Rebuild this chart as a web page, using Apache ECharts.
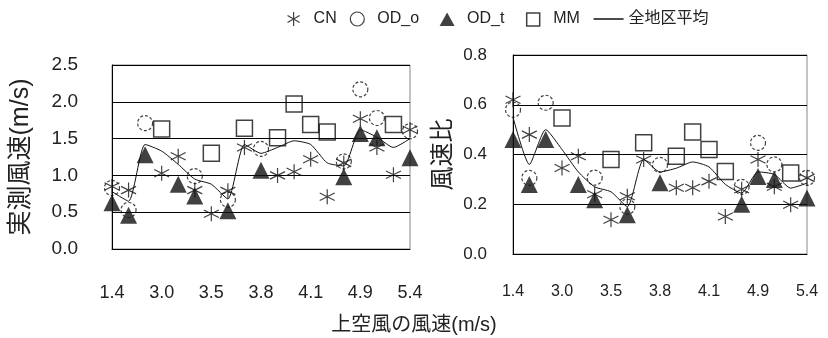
<!DOCTYPE html>
<html>
<head>
<meta charset="utf-8">
<script src="https://cdn.jsdelivr.net/npm/echarts@6/dist/echarts.min.js"></script>
<style>
  html, body { margin: 0; padding: 0; background: #fff; }
  #chart { width: 828px; height: 338px; }
</style>
</head>
<body>
<div id="chart"></div>
<script>
// Upper-air wind speed categories (m/s); every third one is labelled
const categories = ['1.4','2.0','2.8','3.0','3.1','3.3','3.5','3.6','3.7','3.8','3.9','4.0','4.1','4.3','4.6','4.9','5.0','5.2','5.4'];

// Measured wind speed (m/s)
const speedCN  = [0.85, 0.80, null, 1.03, 1.26, 0.80, 0.48, 0.79, 1.38, null, 1.00, 1.05, 1.22, 0.71, 1.17, 1.77, 1.38, 1.01, 1.62];
const speedODo = [0.83, 0.53, 1.71, null, null, 0.99, null, 0.67, null, 1.36, null, null, null, null, 1.19, 2.17, 1.78, null, 1.60];
const speedODt = [0.63, 0.46, 1.28, null, 0.88, 0.72, null, 0.52, null, 1.07, null, null, null, null, 0.98, 1.57, 1.51, null, 1.24];
const speedMM  = [null, null, null, 1.63, null, null, 1.30, null, 1.64, null, 1.51, 1.97, 1.69, 1.59, null, null, null, 1.69, null];
const speedAvg = [0.78, 0.65, 1.42, 1.33, 1.15, 0.95, 0.88, 0.68, 1.42, 1.30, 1.38, 1.47, 1.42, 1.17, 1.13, 1.62, 1.52, 1.38, 1.50];

// Wind speed ratio (measured / upper air)
const ratioCN  = [0.62, 0.48, null, 0.346, 0.393, 0.24, 0.138, 0.232, 0.38, null, 0.266, 0.266, 0.292, 0.151, 0.26, 0.38, 0.27, 0.198, 0.306];
const ratioODo = [0.58, 0.306, 0.608, null, null, 0.307, null, 0.19, null, 0.358, null, null, null, null, 0.27, 0.447, 0.36, null, 0.306];
const ratioODt = [0.46, 0.279, 0.46, null, 0.279, 0.218, null, 0.158, null, 0.286, null, null, null, null, 0.20, 0.312, 0.30, null, 0.225];
const ratioMM  = [null, null, null, 0.547, null, null, 0.38, null, 0.447, null, 0.393, 0.49, 0.42, 0.332, null, null, null, 0.326, null];
const ratioAvg = [0.55, 0.36, 0.50, 0.42, 0.33, 0.27, 0.25, 0.19, 0.38, 0.33, 0.345, 0.37, 0.35, 0.28, 0.245, 0.33, 0.32, 0.265, 0.285];

const speedTicks = [0.0, 0.5, 1.0, 1.5, 2.0, 2.5];
const ratioTicks = [0.0, 0.2, 0.4, 0.6, 0.8];

const FONT = "'Liberation Sans', 'Noto Sans CJK JP', sans-serif";
const INK = '#111';
// six-spoke asterisk marker
const STAR = 'path://M0,-10L0,10M-8.66,-5L8.66,5M-8.66,5L8.66,-5';

// Legend icons share a 30x14 box (bare moves fix the box) so each glyph keeps its shape
const ICON_STAR = 'path://M0,0M15,0L15,14M8.94,3.5L21.06,10.5M8.94,10.5L21.06,3.5M30,14';
const ICON_TRI  = 'path://M0,0M7.5,14L15,0.5L22.5,14ZM30,14';
const ICON_RECT = 'path://M0,0M8.5,1L21.5,1L21.5,14L8.5,14ZM30,14';
const ICON_LINE = 'path://M0,0M0,7L30,7M30,14';

const markerStyles = {
  'CN':   { symbol: STAR, symbolSize: 15, itemStyle: { color: 'transparent', borderColor: INK, borderWidth: 1.2 } },
  'OD_o': { symbol: 'circle', symbolSize: 15, itemStyle: { color: 'transparent', borderColor: INK, borderWidth: 1.2, borderType: [3, 2] } },
  'OD_t': { symbol: 'triangle', symbolSize: 17, itemStyle: { color: INK, borderColor: INK, borderWidth: 0 } },
  'MM':   { symbol: 'rect', symbolSize: 16, itemStyle: { color: 'transparent', borderColor: INK, borderWidth: 1.5 } }
};

function pairs(values) {
  const out = [];
  values.forEach((v, i) => { if (v !== null) out.push([i, v]); });
  return out;
}

function panelSeries(idx, cn, odo, odt, mm, avg) {
  const list = [];
  [[ 'CN', cn ], [ 'OD_o', odo ], [ 'OD_t', odt ], [ 'MM', mm ]].forEach(([name, vals]) => {
    const st = markerStyles[name];
    list.push({
      type: 'scatter', name: name, xAxisIndex: idx, yAxisIndex: idx,
      data: pairs(vals), symbol: st.symbol, symbolSize: st.symbolSize,
      itemStyle: st.itemStyle, clip: false, silent: true
    });
  });
  list.push({
    type: 'line', name: '全地区平均', xAxisIndex: idx, yAxisIndex: idx,
    data: avg, smooth: 0.2, showSymbol: false, symbol: 'none',
    lineStyle: { color: INK, width: 1 }, itemStyle: { color: INK }, silent: true
  });
  return list;
}

function yAxis(idx, ticks, fontSize, margin, name, nameSize, nameGap) {
  return {
    type: 'value', gridIndex: idx,
    min: ticks[0], max: ticks[ticks.length - 1], interval: ticks[1] - ticks[0],
    axisLine: { show: true, lineStyle: { color: '#000', width: 1 } },
    axisTick: { show: false },
    splitLine: { show: true, lineStyle: { color: '#000', width: 1 } },
    axisLabel: { color: '#222', fontFamily: FONT, fontSize: fontSize, margin: margin,
                 formatter: v => v.toFixed(1) },
    name: name, nameLocation: 'middle', nameGap: nameGap, nameRotate: 90,
    nameTextStyle: { color: '#222', fontFamily: FONT, fontSize: nameSize }
  };
}

function xAxis(idx, fontSize, margin) {
  return {
    type: 'category', gridIndex: idx, data: categories, boundaryGap: false,
    axisLine: { show: true, lineStyle: { color: '#000', width: 1 } },
    axisTick: { show: false },
    splitLine: { show: false },
    axisLabel: { interval: 2, color: '#222', fontFamily: FONT, fontSize: fontSize, margin: margin }
  };
}

const chart = echarts.init(document.getElementById('chart'), null, { renderer: 'canvas' });

chart.setOption({
  animation: false,
  backgroundColor: '#fff',
  title: {
    text: '上空風の風速(m/s)', left: 'center', top: 310,
    textStyle: { color: '#222', fontFamily: FONT, fontSize: 20, fontWeight: 'normal' }
  },
  legend: {
    top: 11, left: 278, padding: 0,
    itemGap: 13, itemWidth: 30, itemHeight: 14, symbolKeepAspect: true,
    textStyle: { color: '#222', fontFamily: FONT, fontSize: 16 },
    data: [
      { name: 'CN', icon: ICON_STAR, itemStyle: { color: 'transparent', borderColor: INK, borderWidth: 1.2 } },
      { name: 'OD_o', icon: 'circle', itemStyle: { color: 'transparent', borderColor: INK, borderWidth: 1.2 } },
      { name: 'OD_t', icon: ICON_TRI, itemStyle: { color: INK, borderWidth: 0 } },
      { name: 'MM', icon: ICON_RECT, itemStyle: { color: 'transparent', borderColor: INK, borderWidth: 1.5 } },
      { name: '全地区平均', icon: ICON_LINE, itemStyle: { color: 'transparent', borderColor: INK, borderWidth: 1.5 } }
    ]
  },
  grid: [
    { left: 112, top: 65, width: 298, height: 184, show: true, borderColor: '#888', borderWidth: 1 },
    { left: 513, top: 55, width: 294, height: 199, show: true, borderColor: '#888', borderWidth: 1 }
  ],
  xAxis: [ xAxis(0, 18, 35), xAxis(1, 16, 30) ],
  yAxis: [
    yAxis(0, speedTicks, 19, 34, '実測風速(m/s)', 25, 78),
    yAxis(1, ratioTicks, 17, 26, '風速比', 24, 58)
  ],
  series: [].concat(
    panelSeries(0, speedCN, speedODo, speedODt, speedMM, speedAvg),
    panelSeries(1, ratioCN, ratioODo, ratioODt, ratioMM, ratioAvg)
  )
});
</script>
</body>
</html>
